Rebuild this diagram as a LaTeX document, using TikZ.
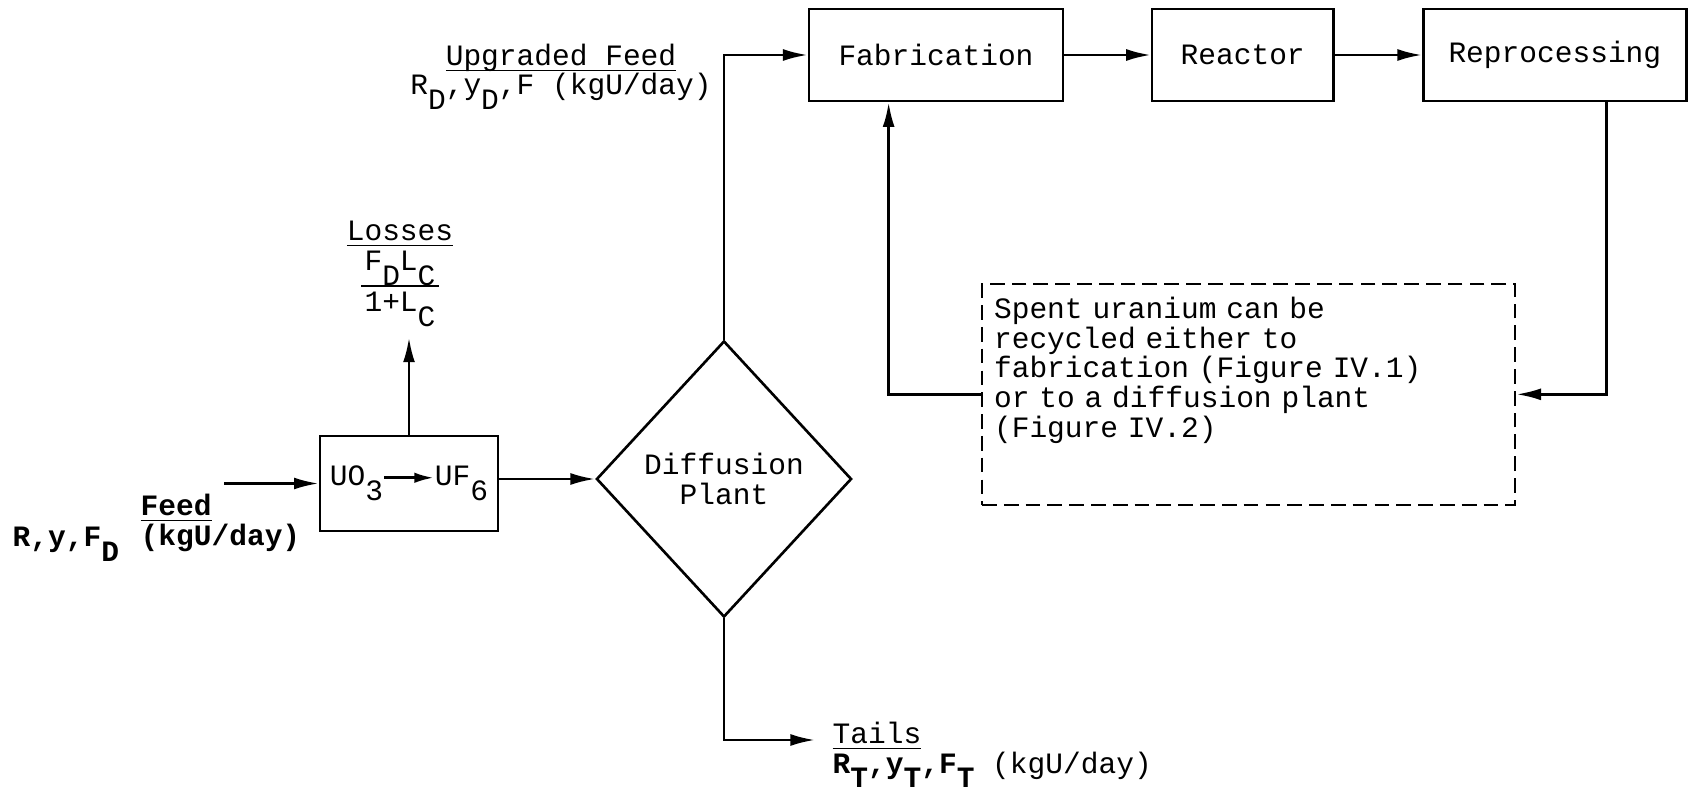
\documentclass[tikz,border=0pt]{standalone}
\usepackage{fontspec}
\setmainfont{Liberation Mono}
\usepackage{tikz}
\usetikzlibrary{shapes.geometric,arrows.meta,positioning}
\newcommand{\twfont}{\fontsize{8.4pt}{8.45pt}\selectfont}
\newcommand{\dn}[1]{\raisebox{-0.5em}{#1}}
\newcommand{\ul}[1]{\underline{\smash{#1}}}
\tikzset{
	basics/.style={draw=black, line width=0.75pt, inner sep=0pt},
	process/.style={rectangle, basics, minimum height=0.92cm, text centered},
	decision/.style={diamond, basics, minimum width=2.55cm, minimum height=2.76cm, align=center},
	notebox/.style={rectangle, basics, line width=0.6pt, dash pattern=on 4.2pt off 2pt, align=left, text width=5.09cm, inner xsep=0.12cm, inner ysep=0.13cm, text depth=1.73cm, anchor=north west},
	lbl/.style={inner sep=0pt},
	arrow/.style={line width=0.75pt,->},
}
\tikzset{>={Latex[length=7pt,width=3.4pt]}}

\begin{document}
\begin{tikzpicture}[x=0.01cm, y=-0.01cm, font=\twfont, node distance=3.065cm]
\useasboundingbox (0,0) rectangle (1696,791);
\node (fab) [process, minimum width=2.54cm] at (936,55) {Fabrication};
\node (reac) [process, minimum width=1.81cm, right of=fab] {Reactor};
\node (repro) [process, minimum width=2.63cm, right of=reac, node distance=3.12cm] {Reprocessing};
\node (conv) [process, minimum width=1.78cm, minimum height=0.95cm] at (409,483.5) {UO\dn{3}\tikz[baseline=-2.3pt]\draw[arrow,>={Latex[length=5.5pt,width=3pt]}] (0pt,0pt) -- (14pt,0pt);UF\dn{6}};
\node (dp) [decision] at (724,479) {Diffusion\\Plant};
\node (note) [notebox] at (981,283) {Spent uranium can be\\recycled either to\\fabrication (Figure IV.1)\\or to a diffusion plant\\(Figure IV.2)};
\node (upfeed) [lbl, align=center, anchor=base] at (561,95) {\ul{Upgraded Feed}\\R\dn{D},y\dn{D},F (kgU/day)};
\node (loss) [lbl, align=center, above=0.97cm of conv, xshift=-0.09cm, inner ysep=0.1cm] {\ul{Losses}\\F\dn{D}L\dn{C}\\[-0.13cm]\rule{0.77cm}{0.6pt}\\[-0.05cm]1+L\dn{C}};
\node (feedlbl) [lbl, align=left, anchor=base west, font=\twfont\bfseries] at (140,545) {\ul{Feed}\\(kgU/day)};
\node (feedvar) [lbl, anchor=base west, font=\twfont\bfseries] at (12,547) {R,y,F\dn{D}};
\node (tails) [lbl, align=left, anchor=base west] at (832,773) {\ul{Tails}\\\textbf{R\dn{T},y\dn{T},F\dn{T}} (kgU/day)};
\coordinate (feedin) at (224,483.5);
\coordinate (tailend) at (815,740);
\draw [arrow] (feedin) -- (conv.west);
\draw [arrow] (conv.north) -- (conv.north |- loss.south);
\draw [arrow] (conv.east |- dp.west) -- (dp.west);
\draw [arrow] (dp.north) |- (fab.west);
\foreach \i/\j in {fab/reac,reac/repro}
\draw [arrow] (\i) -- (\j);
\draw [arrow] ([xshift=0.515cm]repro.south) |- (note.east);
\draw [arrow] (note.west) -| ([xshift=0.81cm]fab.south west);
\draw [arrow] (dp.south) |- (tailend);
\end{tikzpicture}
\end{document}
